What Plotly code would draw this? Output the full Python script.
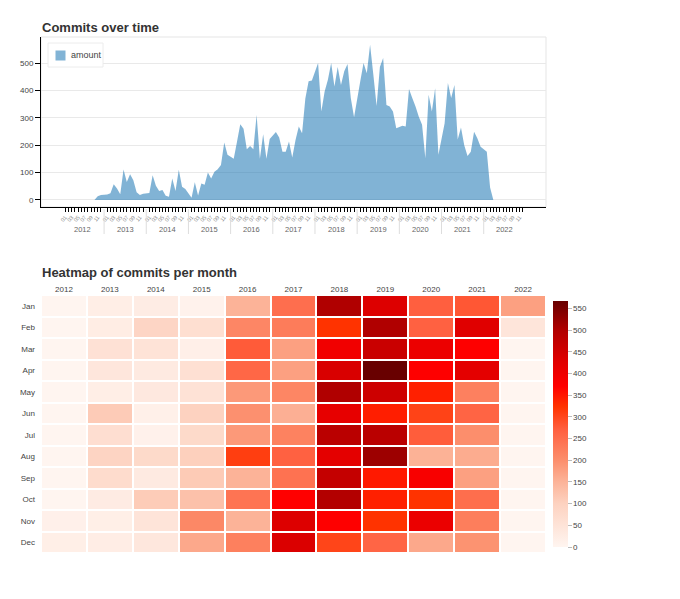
import plotly.graph_objects as go

years = ["2012", "2013", "2014", "2015", "2016", "2017", "2018", "2019", "2020", "2021", "2022"]
month_names = ["Jan", "Feb", "Mar", "Apr", "May", "Jun", "Jul", "Aug", "Sep", "Oct", "Nov", "Dec"]
month_codes = ["01", "02", "03", "04", "05", "06", "07", "08", "09", "10", "11", "12"]

commits_2012 = [0, 0, 0, 0, 0, 0, 0, 0, 0, 0, 13, 18]
commits_2013 = [20, 24, 57, 42, 21, 111, 65, 94, 72, 28, 18, 22]
commits_2014 = [25, 90, 52, 32, 36, 15, 11, 78, 32, 110, 48, 40]
commits_2015 = [8, 64, 16, 60, 55, 100, 78, 103, 112, 127, 210, 165]
commits_2016 = [150, 212, 276, 260, 185, 197, 185, 310, 150, 240, 150, 222]
commits_2017 = [248, 228, 176, 176, 213, 155, 219, 268, 243, 370, 433, 436]
commits_2018 = [500, 323, 396, 439, 500, 414, 485, 420, 470, 496, 372, 302]
commits_2019 = [433, 500, 463, 567, 457, 343, 485, 518, 347, 341, 323, 262]
commits_2020 = [271, 268, 405, 372, 341, 304, 274, 152, 384, 323, 408, 165]
commits_2021 = [280, 427, 372, 420, 221, 264, 200, 160, 176, 249, 225, 194]
commits_2022 = [176, 45, 0, 0, 0, 0, 0, 0, 0, 0, 0, 0]

per_year = [commits_2012, commits_2013, commits_2014, commits_2015, commits_2016, commits_2017,
            commits_2018, commits_2019, commits_2020, commits_2021, commits_2022]

W, H = 680, 599
def px(x):
    return x / W
def py(y):
    return 1 - y / H

FONT = "Liberation Sans, Arial, sans-serif"
TXT = "#444444"
AREA = "rgba(31,119,180,0.56)"

# nested (year, month) factor positions, with a small padding between year groups
GROUP = 12.9
pos, amount, tick_text = [], [], []
for yi, vals in enumerate(per_year):
    for m, v in enumerate(vals):
        pos.append(yi * GROUP + m)
        amount.append(v)
        tick_text.append(month_codes[m] if m % 2 == 0 else "")

zmax = max(amount)

fig = go.Figure()
fig.add_trace(go.Scatter(
    x=pos, y=amount, mode="none", fill="tozeroy",
    fillcolor=AREA, name="amount", showlegend=False,
    xaxis="x", yaxis="y", hoverinfo="x+y",
))

z = [[vals[m] for vals in per_year] for m in range(12)]
colorscale = [
    [0.0, "#fff5f0"],
    [0.176, "#fdd2c0"],
    [0.265, "#fcb398"],
    [0.353, "#fc8e6c"],
    [0.476, "#ff6040"],
    [0.57, "#ff3300"],
    [0.653, "#ff0000"],
    [0.764, "#dd0000"],
    [0.882, "#b00000"],
    [1.0, "#680000"],
]
fig.add_trace(go.Heatmap(
    x=years, y=month_names, z=z, zmin=0, zmax=zmax, colorscale=colorscale,
    xgap=2, ygap=2, xaxis="x2", yaxis="y2", showlegend=False,
    colorbar=dict(
        x=px(553), xanchor="left", y=py(424), yanchor="middle",
        len=246 / H, lenmode="fraction", thickness=15, thicknessmode="pixels",
        outlinewidth=0, ticks="outside", ticklen=4, tickcolor="#bbbbbb",
        tickvals=list(range(0, 551, 50)), tickfont=dict(size=8, color=TXT, family=FONT),
        xpad=0, ypad=0,
    ),
))

shapes = [
    dict(type="rect", xref="paper", yref="paper", x0=px(41), x1=px(546), y0=py(207), y1=py(37),
         line=dict(color="#e5e5e5", width=1), layer="below"),
    # legend box and swatch
    dict(type="rect", xref="paper", yref="paper", x0=px(48), x1=px(103), y0=py(67), y1=py(43),
         line=dict(color="#ececec", width=1), fillcolor="white", layer="above"),
    dict(type="rect", xref="paper", yref="paper", x0=px(55.5), x1=px(65.5), y0=py(60.5), y1=py(50.5),
         line=dict(width=0), fillcolor=AREA, layer="above"),
]

annotations = [
    dict(text="<b>Commits over time</b>", x=px(41), y=py(27), xref="paper", yref="paper",
         xanchor="left", yanchor="middle", xshift=-1, showarrow=False,
         font=dict(size=13, color="#333333", family=FONT)),
    dict(text="<b>Heatmap of commits per month</b>", x=px(41), y=py(272), xref="paper", yref="paper",
         xanchor="left", yanchor="middle", xshift=-1, showarrow=False,
         font=dict(size=13, color="#333333", family=FONT)),
    dict(text="amount", x=px(69), y=py(55.5), xref="paper", yref="paper",
         xanchor="left", yanchor="middle", showarrow=False,
         font=dict(size=9, color=TXT, family=FONT)),
]

for yi, yr in enumerate(years):
    annotations.append(dict(text=yr, x=yi * GROUP + 5.5, y=py(229), xref="x", yref="paper",
                            xanchor="center", yanchor="middle", showarrow=False,
                            font=dict(size=7.5, color="#666666", family=FONT)))
    if yi > 0:
        shapes.append(dict(type="line", xref="x", yref="paper",
                           x0=yi * GROUP - 0.95, x1=yi * GROUP - 0.95, y0=py(209), y1=py(234),
                           line=dict(color="#dddddd", width=1)))

fig.update_layout(
    width=W, height=H, margin=dict(l=0, r=0, t=0, b=0),
    paper_bgcolor="white", plot_bgcolor="white",
    font=dict(family=FONT, color=TXT, size=8),
    shapes=shapes, annotations=annotations, showlegend=False,
    xaxis=dict(domain=[px(41), px(546)], anchor="y",
               range=[-7.34, 147.1], showline=True, linecolor="black", linewidth=1,
               tickmode="array", tickvals=pos, ticktext=tick_text,
               ticks="outside", ticklen=4, tickcolor="black", tickwidth=1, tickangle=-50,
               tickfont=dict(size=5.5, color="#888888", family=FONT), showgrid=False, zeroline=False),
    yaxis=dict(domain=[py(207), py(37)], anchor="x", range=[-26, 595],
               tickvals=[0, 100, 200, 300, 400, 500], showline=True, linecolor="black",
               linewidth=1, ticks="outside", ticklen=5, tickcolor="black",
               showgrid=True, gridcolor="#e9e9e9", zeroline=False,
               tickfont=dict(size=8, color=TXT)),
    xaxis2=dict(domain=[px(41), px(546)], anchor="y2", side="top", type="category",
                showgrid=False, showline=False, ticks="", zeroline=False,
                tickfont=dict(size=8, color=TXT)),
    yaxis2=dict(domain=[py(553), py(295)], anchor="x2", type="category", autorange="reversed",
                showgrid=False, showline=False, ticks="", zeroline=False, ticklabelstandoff=5,
                tickfont=dict(size=8, color=TXT)),
)

fig.write_html("out.html", config={"displayModeBar": False},
               post_script="document.body.style.margin='0';")
